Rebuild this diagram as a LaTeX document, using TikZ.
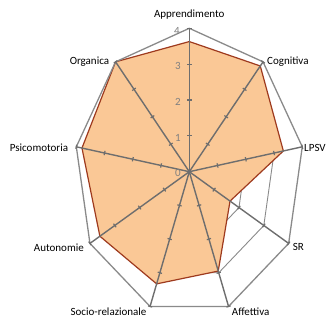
\documentclass[tikz,border=0pt]{standalone}
\usepackage{fontspec}
\setmainfont{Carlito}
\usetikzlibrary{calc}
\definecolor{gridgrey}{HTML}{8A8A8A}
\definecolor{axisgrey}{HTML}{6E6E6E}
\definecolor{fillpeach}{HTML}{FAC896}
\definecolor{edgered}{HTML}{9E3A1E}
\definecolor{numgrey}{HTML}{808080}
\tikzset{
  gridline/.style={draw=gridgrey, line width=0.9pt},
  outerline/.style={draw=gridgrey, line width=1.3pt, line join=miter},
  datapoly/.style={fill=fillpeach, draw=edgered, line width=1.2pt, line join=miter},
  spoke/.style={draw=axisgrey, line width=1.4pt},
  tickmark/.style={draw=axisgrey, line width=1.2pt},
  catlabel/.style={inner sep=0pt, font=\fontsize{11}{13}\selectfont, text=black},
  numlabel/.style={inner sep=0pt, font=\fontsize{11}{13}\selectfont, text=numgrey, anchor=base east}
}
\begin{document}
\begin{tikzpicture}[x=1pt,y=1pt]
\useasboundingbox (0,0) rectangle (329,324);
\begin{scope}[shift={(189.3,152.3)}]
\begin{scope}[x=28.68pt, y=35.85pt]
  \coordinate (c) at (0,0);
  % outer vertices
  \foreach \i/\a in {0/0,1/40,2/80,3/120,4/160,5/200,6/240,7/280,8/320}{
    \coordinate (o\i) at ({4*sin(\a)},{4*cos(\a)});
    \coordinate (ga\i) at ({1*sin(\a)},{1*cos(\a)});
    \coordinate (gb\i) at ({2*sin(\a)},{2*cos(\a)});
    \coordinate (gc\i) at ({3*sin(\a)},{3*cos(\a)});
  }
  % data vertices
  \foreach \i/\a/\v in {0/0/3.63,1/40/3.85,2/80/3.33,3/120/1.64,4/160/2.95,5/200/3.33,6/240/3.6,7/280/3.8,8/320/4}{
    \coordinate (d\i) at ({\v*sin(\a)},{\v*cos(\a)});
  }
\end{scope}
\end{scope}
% inner grid levels
\foreach \g in {ga,gb,gc}{
  \draw[gridline] (\g0) -- (\g1) -- (\g2) -- (\g3) -- (\g4) -- (\g5) -- (\g6) -- (\g7) -- (\g8) -- cycle;
}
% data area
\draw[datapoly] (d0) -- (d1) -- (d2) -- (d3) -- (d4) -- (d5) -- (d6) -- (d7) -- (d8) -- cycle;
% outer polygon
\draw[outerline] (o0) -- (o1) -- (o2) -- (o3) -- (o4) -- (o5) -- (o6) -- (o7) -- (o8) -- cycle;
% spokes and ticks
\foreach \i in {0,...,8}{
  \draw[spoke] (c) -- (o\i);
  \foreach \f in {0.25,0.5,0.75,1}{
    \draw[tickmark] ($($(c)!\f!(o\i)$)!2.2pt!90:(c)$) -- ($($(c)!\f!(o\i)$)!2.2pt!-90:(c)$);
  }
}
% scale numbers
\node[numlabel] (n0) at (181,147.3) {0};
\node[numlabel] (n1) at (181,182.3) {1};
\node[numlabel] (n2) at (181,218) {2};
\node[numlabel] (n3) at (181,254) {3};
\node[numlabel] (n4) at (180,289.7) {4};
% category labels
\node[catlabel, anchor=base] (l0) at (189.3,306.3) {Apprendimento};
\node[catlabel, anchor=base west] (l1) at (267,259) {Cognitiva};
\node[catlabel, anchor=base west] (l2) at (304,172.3) {LPSV};
\node[catlabel, anchor=base west] (l3) at (292.7,73.3) {SR};
\node[catlabel, anchor=base west] (l4) at (231.7,8.3) {Affettiva};
\node[catlabel, anchor=base east] (l5) at (146.7,8.3) {Socio-relazionale};
\node[catlabel, anchor=base east] (l6) at (84,72.3) {Autonomie};
\node[catlabel, anchor=base east] (l7) at (68.3,172.3) {Psicomotoria};
\node[catlabel, anchor=base east] (l8) at (109.3,259) {Organica};
\end{tikzpicture}
\end{document}
